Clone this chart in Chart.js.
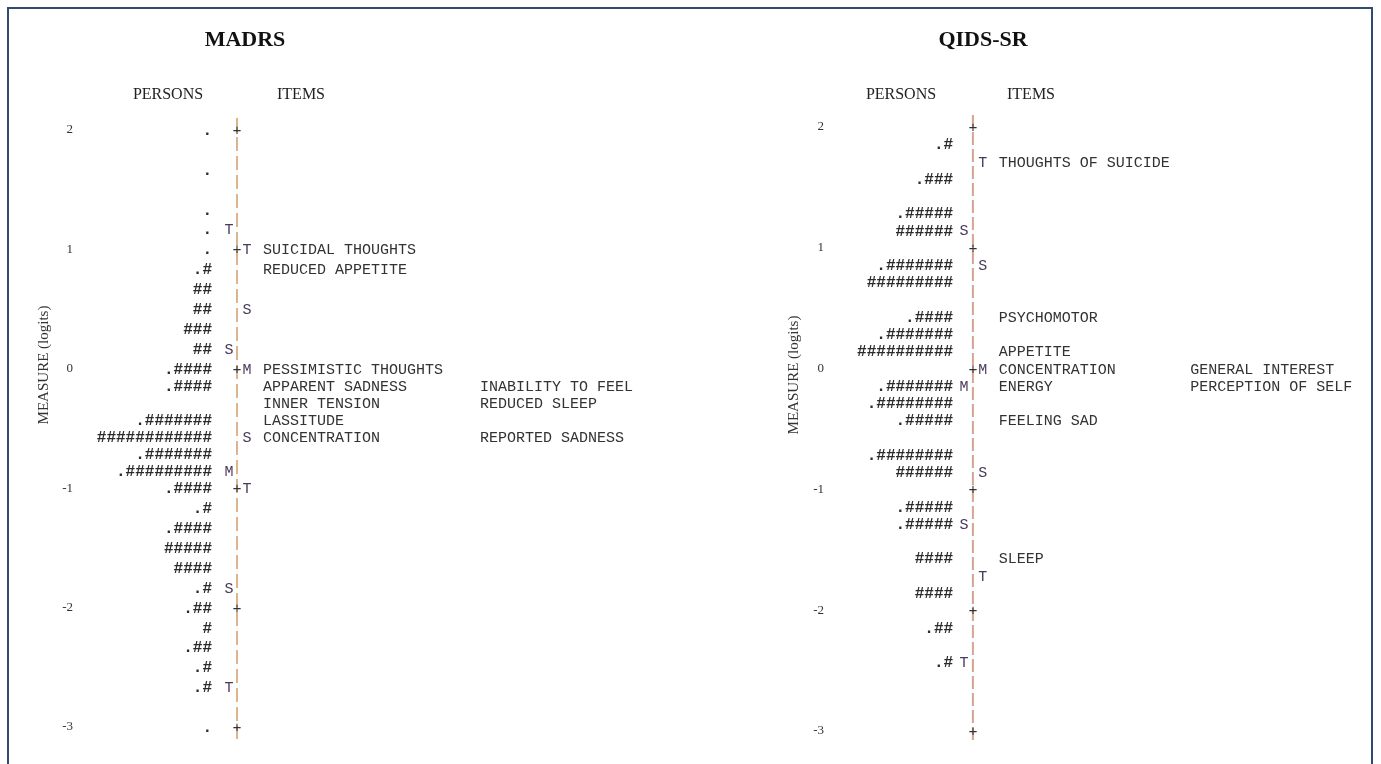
<!DOCTYPE html>
<html>
<head>
<meta charset="utf-8">
<script src="https://cdn.jsdelivr.net/npm/chart.js@4.4.0/dist/chart.umd.min.js"></script>
<style>
  html, body { margin: 0; padding: 0; background: #fff; overflow: hidden; }
  #wrap { position: relative; width: 1381px; height: 764px; }
  #frame { position: absolute; left: 7px; top: 7px; width: 1362px; height: 800px; border: 2px solid #2f4b6f; }
  #madrs { position: absolute; left: 0; top: 0; }
  #qids { position: absolute; left: 690px; top: 0; }
</style>
</head>
<body>
<div id="wrap">
  <div id="frame"></div>
  <canvas id="madrs" width="690" height="764"></canvas>
  <canvas id="qids" width="691" height="764"></canvas>
</div>
<script>
// measure axis (logits)
const measureTicks = [2, 1, 0, -1, -2, -3];

// MADRS - persons column ('#' = group of persons, '.' = a few)
const madrsPersonLogits = [2.0, 1.667, 1.333, 1.167, 1.0, 0.833, 0.667, 0.5, 0.333, 0.167,
  0, -0.143, -0.429, -0.571, -0.714, -0.857, -1.0, -1.167, -1.333, -1.5, -1.667, -1.833,
  -2.0, -2.167, -2.333, -2.5, -2.667, -3.0];
const madrsPersonBars = ['.', '.', '.', '.', '.', '.#', '##', '##', '###', '##',
  '.####', '.####', '.#######', '############', '.#######', '.#########', '.####', '.#', '.####', '#####', '####', '.#',
  '.##', '#', '.##', '.#', '.#', '.'];
const madrsPersonMarkLogits = [1.167, 0.167, -0.857, -1.833, -2.667];
const madrsPersonMarks = ['T', 'S', 'M', 'S', 'T'];

// MADRS - items column
const madrsItemNames = ['SUICIDAL THOUGHTS', 'REDUCED APPETITE', 'PESSIMISTIC THOUGHTS', 'APPARENT SADNESS',
  'INABILITY TO FEEL', 'INNER TENSION', 'REDUCED SLEEP', 'LASSITUDE', 'CONCENTRATION', 'REPORTED SADNESS'];
const madrsItemLogits = [1.0, 0.833, 0, -0.143, -0.143, -0.286, -0.286, -0.429, -0.571, -0.571];
const madrsItemMarkLogits = [1.0, 0.5, 0, -0.571, -1.0];
const madrsItemMarks = ['T', 'S', 'M', 'S', 'T'];

// QIDS-SR - persons column
const qidsPersonLogits = [1.857, 1.571, 1.286, 1.143, 0.857, 0.714, 0.429, 0.286, 0.143,
  -0.143, -0.286, -0.429, -0.714, -0.857, -1.143, -1.286, -1.571, -1.857, -2.143, -2.429];
const qidsPersonBars = ['.#', '.###', '.#####', '######', '.#######', '#########', '.####', '.#######', '##########',
  '.#######', '.########', '.#####', '.########', '######', '.#####', '.#####', '####', '####', '.##', '.#'];
const qidsPersonMarkLogits = [1.143, -0.143, -1.286, -2.429];
const qidsPersonMarks = ['S', 'M', 'S', 'T'];

// QIDS-SR - items column
const qidsItemNames = ['THOUGHTS OF SUICIDE', 'PSYCHOMOTOR', 'APPETITE', 'CONCENTRATION', 'GENERAL INTEREST',
  'ENERGY', 'PERCEPTION OF SELF', 'FEELING SAD', 'SLEEP'];
const qidsItemLogits = [1.714, 0.429, 0.143, 0, 0, -0.143, -0.143, -0.429, -1.571];
const qidsItemMarkLogits = [1.714, 0.857, 0, -0.857, -1.714];
const qidsItemMarks = ['T', 'S', 'M', 'S', 'T'];

const MONO = '"Liberation Mono", "DejaVu Sans Mono", monospace';
const SERIF = '"Liberation Serif", "DejaVu Serif", serif';

// draws the text marks of every dataset carrying a "texts" array
function wrightPlugin(cfg) {
  return {
    id: 'wright',
    afterDatasetsDraw(chart) {
      const ctx = chart.ctx;
      ctx.save();
      ctx.textBaseline = 'middle';
      chart.data.datasets.forEach((ds, i) => {
        if (!ds.texts) return;
        const meta = chart.getDatasetMeta(i);
        ctx.font = ds.font;
        ctx.fillStyle = ds.textColor;
        ctx.textAlign = ds.align;
        meta.data.forEach((pt, j) => ctx.fillText(ds.texts[j], pt.x, pt.y + 1));
      });
      // titles
      ctx.fillStyle = '#111';
      ctx.textAlign = 'center';
      ctx.font = 'bold 22px ' + SERIF;
      ctx.fillText(cfg.title, cfg.titleX, 40);
      ctx.font = '16px ' + SERIF;
      ctx.fillStyle = '#222';
      ctx.fillText('PERSONS', cfg.personsX, 95);
      ctx.fillText('ITEMS', cfg.itemsX, 95);
      ctx.save();
      ctx.translate(cfg.yTitleX, cfg.yTitleY);
      ctx.rotate(-Math.PI / 2);
      ctx.font = '15px ' + SERIF;
      ctx.fillStyle = '#333';
      ctx.fillText('MEASURE (logits)', 0, 0);
      ctx.restore();
      ctx.restore();
    }
  };
}

function itemPoints(logits, x0, colW) {
  const used = {};
  return logits.map(v => {
    const col = used[v] || 0;
    used[v] = col + 1;
    return { x: x0 + col * colW, y: v };
  });
}

function textSet(points, texts, font, align, color) {
  return {
    type: 'scatter', data: points, texts: texts, font: font, align: align, textColor: color,
    pointRadius: 0, pointHoverRadius: 0, showLine: false
  };
}

function wrightChart(id, p) {
  const col = x => (y => ({ x: x, y: y }));
  new Chart(document.getElementById(id), {
    data: {
      datasets: [
        {
          type: 'line',
          data: [{ x: p.lineX, y: 2.1 }, { x: p.lineX, y: -3.1 }],
          borderColor: p.lineColor, borderWidth: 2, borderDash: p.dash,
          pointRadius: 0, clip: false
        },
        textSet(measureTicks.map(col(p.lineX)), measureTicks.map(() => '+'), '15px ' + MONO, 'center', '#333'),
        textSet(p.personLogits.map(col(p.personX)), p.personBars, 'bold 16px ' + MONO, 'right', '#2b2b2b'),
        textSet(p.personMarkLogits.map(col(p.leftMarkX)), p.personMarks, '15px ' + MONO, 'center', '#4a3a5a'),
        textSet(p.itemMarkLogits.map(col(p.rightMarkX)), p.itemMarks, '15px ' + MONO, 'center', '#4a3a5a'),
        textSet(itemPoints(p.itemLogits, p.itemX, p.itemColW), p.itemNames, '15px ' + MONO, 'left', '#333')
      ]
    },
    options: {
      responsive: false,
      animation: false,
      layout: { padding: { top: p.top, bottom: p.bottom, left: 0, right: 0 } },
      plugins: { legend: { display: false }, tooltip: { enabled: false } },
      scales: {
        x: { type: 'linear', min: 0, max: 100, display: false },
        y: {
          type: 'linear', min: -3, max: 2,
          afterFit: s => { s.width = p.axisWidth; },
          afterBuildTicks: s => { s.ticks = measureTicks.map(v => ({ value: v })); },
          grid: { display: false, drawTicks: false },
          border: { display: false },
          ticks: { padding: 7, color: '#333', font: { family: SERIF, size: 13 }, callback: v => String(v) }
        }
      }
    },
    plugins: [wrightPlugin(p)]
  });
}

wrightChart('madrs', {
  title: 'MADRS', titleX: 245, personsX: 168, itemsX: 301, yTitleX: 44, yTitleY: 365,
  top: 130, bottom: 37, axisWidth: 80,
  lineX: 25.74, personX: 21.64, leftMarkX: 24.43, rightMarkX: 27.38, itemX: 30.0, itemColW: 35.57,
  lineColor: '#dcb58c', dash: [14, 5],
  personLogits: madrsPersonLogits, personBars: madrsPersonBars,
  personMarkLogits: madrsPersonMarkLogits, personMarks: madrsPersonMarks,
  itemLogits: madrsItemLogits, itemNames: madrsItemNames,
  itemMarkLogits: madrsItemMarkLogits, itemMarks: madrsItemMarks
});

wrightChart('qids', {
  title: 'QIDS-SR', titleX: 293, personsX: 211, itemsX: 341, yTitleX: 104, yTitleY: 375,
  top: 127, bottom: 33, axisWidth: 141,
  lineX: 25.8, personX: 22.2, leftMarkX: 24.2, rightMarkX: 27.6, itemX: 30.5, itemColW: 34.8,
  lineColor: '#d4a592', dash: [13, 4],
  personLogits: qidsPersonLogits, personBars: qidsPersonBars,
  personMarkLogits: qidsPersonMarkLogits, personMarks: qidsPersonMarks,
  itemLogits: qidsItemLogits, itemNames: qidsItemNames,
  itemMarkLogits: qidsItemMarkLogits, itemMarks: qidsItemMarks
});
</script>
</body>
</html>
